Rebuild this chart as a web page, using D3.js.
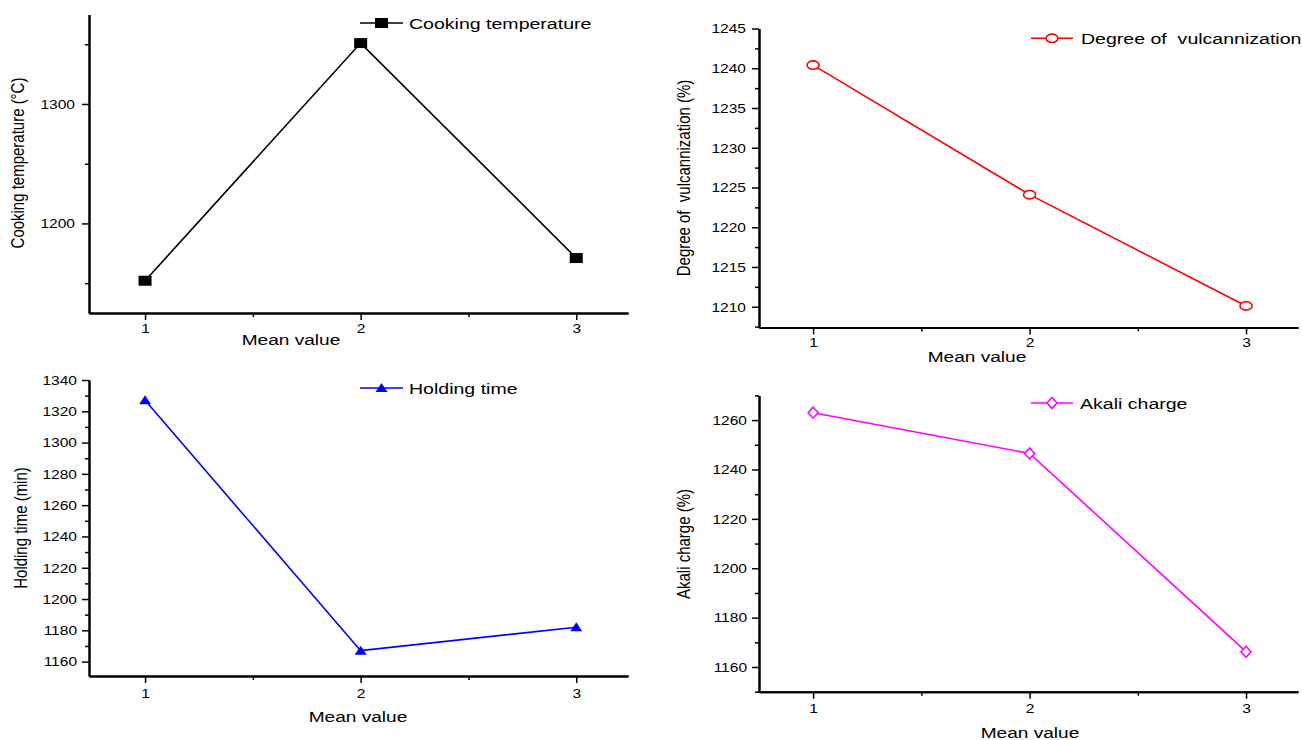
<!DOCTYPE html>
<html>
<head>
<meta charset="utf-8">
<script src="https://cdn.jsdelivr.net/npm/d3@7"></script>
<style>
  body { margin: 0; background: #fff; }
  svg text { font-family: "Liberation Sans", Arial, sans-serif; fill: #000; }
  .axis path { stroke: #000; stroke-width: 2; }
  .axis line { stroke: #000; stroke-width: 1.5; }
  .tick text { font-size: 13.5px; }
</style>
</head>
<body>
<svg id="chart" width="1302" height="740"></svg>
<script>

// values
const meanValues = [1, 2, 3];
const cookingTemperature = [1152, 1351, 1171];
const vulcanization = [1240.4, 1224.1, 1210.1];
const holdingTime = [1327, 1167, 1182];
const akaliCharge = [1263, 1246.5, 1166.2];

const xMajorTicks = [1, 2, 3];
const xMinorTicks = [1.5, 2.5];
const cookingTicks = [1200, 1300];
const cookingMinor = [1150, 1250, 1350];
const vulcTicks = [1210, 1215, 1220, 1225, 1230, 1235, 1240, 1245];
const vulcMinor = [1207.5, 1212.5, 1217.5, 1222.5, 1227.5, 1232.5, 1237.5, 1242.5];
const holdingTicks = [1160, 1180, 1200, 1220, 1240, 1260, 1280, 1300, 1320, 1340];
const holdingMinor = [1170, 1190, 1210, 1230, 1250, 1270, 1290, 1310, 1330];
const akaliTicks = [1160, 1180, 1200, 1220, 1240, 1260];
const akaliMinor = [1150, 1170, 1190, 1210, 1230, 1250, 1270];

const svg = d3.select("#chart");
const fmt = d3.format("d");

// stretch glyphs horizontally, the source picture is wider than it is tall
function stretch(sel, k) {
    sel.each(function() {
        let w = this.getComputedTextLength();
        d3.select(this).attr("textLength", w * k).attr("lengthAdjust", "spacingAndGlyphs");
    });
}

function marker(g, kind, color, cx, cy) {
    if (kind === "square") {
        g.append("rect").attr("x", cx - 6.5).attr("y", cy - 5)
            .attr("width", 13).attr("height", 10).attr("fill", color);
    } else if (kind === "circle") {
        g.append("ellipse").attr("cx", cx).attr("cy", cy).attr("rx", 6).attr("ry", 4.2)
            .attr("fill", "#fff").attr("stroke", color).attr("stroke-width", 1.6);
    } else if (kind === "triangle") {
        g.append("path")
            .attr("d", `M${cx},${cy - 5}L${cx + 6},${cy + 4}L${cx - 6},${cy + 4}Z`)
            .attr("fill", color);
    } else {
        g.append("path")
            .attr("d", `M${cx},${cy - 5.5}L${cx + 5},${cy}L${cx},${cy + 5.5}L${cx - 5},${cy}Z`)
            .attr("fill", "#fff").attr("stroke", color).attr("stroke-width", 1.6);
    }
}

class Panel {

    constructor(opts) {
        this.o = opts;
        this.x = d3.scaleLinear().domain(opts.xDomain).range(opts.xRange);
        this.y = d3.scaleLinear().domain(opts.yDomain).range(opts.yRange);
    }

    draw() {
        let o = this.o, x = this.x, y = this.y;
        let g = svg.append("g");
        let left = o.xRange[0], bottom = o.yRange[0];

        // minor ticks first, then majors with labels
        g.append("g").attr("class", "axis")
            .attr("transform", `translate(0,${bottom})`)
            .call(d3.axisBottom(x).tickValues(xMinorTicks).tickSize(4).tickSizeOuter(0).tickFormat(""));
        let xa = g.append("g").attr("class", "axis")
            .attr("transform", `translate(0,${bottom})`)
            .call(d3.axisBottom(x).tickValues(xMajorTicks).tickSize(7).tickSizeOuter(0)
                .tickPadding(o.xPad).tickFormat(fmt));

        g.append("g").attr("class", "axis")
            .attr("transform", `translate(${left},0)`)
            .call(d3.axisLeft(y).tickValues(o.minor).tickSize(4).tickSizeOuter(0).tickFormat(""));
        let ya = g.append("g").attr("class", "axis")
            .attr("transform", `translate(${left},0)`)
            .call(d3.axisLeft(y).tickValues(o.major).tickSize(7).tickSizeOuter(0)
                .tickPadding(o.yPad).tickFormat(fmt));

        stretch(xa.selectAll("text"), 1.15);
        stretch(ya.selectAll("text"), 1.15);

        let pts = meanValues.map((m, i) => ({ m: m, v: o.values[i] }));
        let line = d3.line().x(d => x(d.m)).y(d => y(d.v));

        g.append("path").datum(pts)
            .attr("d", line)
            .attr("fill", "none")
            .attr("stroke", o.color)
            .attr("stroke-width", 1.6);

        pts.forEach(d => marker(g, o.kind, o.color, x(d.m), y(d.v)));

        // legend
        g.append("line")
            .attr("x1", o.legend[0]).attr("x2", o.legend[1])
            .attr("y1", o.legend[2]).attr("y2", o.legend[2])
            .attr("stroke", o.color).attr("stroke-width", 1.6);
        marker(g, o.kind, o.color, (o.legend[0] + o.legend[1]) / 2, o.legend[2]);
        let lt = g.append("text")
            .attr("x", o.legend[3]).attr("y", o.legend[2])
            .attr("dy", "0.36em")
            .style("font-size", "15.5px")
            .style("white-space", "pre")
            .text(o.name);
        stretch(lt, 1.26);

        let xt = g.append("text")
            .attr("x", o.xTitle[0]).attr("y", o.xTitle[1])
            .attr("text-anchor", "middle")
            .style("font-size", "15.5px")
            .text("Mean value");
        stretch(xt, 1.23);

        // rotated title, glyphs widened across the axis like the source
        g.append("text")
            .attr("transform", `translate(${o.yTitle[0]},${o.yTitle[1]}) rotate(-90) scale(1,1.2)`)
            .attr("text-anchor", "middle")
            .attr("dy", "0.36em")
            .style("font-size", "15px")
            .style("white-space", "pre")
            .text(o.yLabel);
    }
}

new Panel({
    name: "Cooking temperature", yLabel: "Cooking temperature (°C)",
    values: cookingTemperature, color: "#000", kind: "square",
    xDomain: [0.74, 3.24], xRange: [89, 628],
    yDomain: [1125, 1375], yRange: [313, 14.4],
    major: cookingTicks, minor: cookingMinor, xPad: 3, yPad: 7,
    legend: [360, 403, 23, 409], xTitle: [291, 345], yTitle: [17.5, 163]
}).draw();

new Panel({
    name: "Degree of  vulcannization", yLabel: "Degree of  vulcannization (%)",
    values: vulcanization, color: "#ff0000", kind: "circle",
    xDomain: [0.75, 3.24], xRange: [759, 1298],
    yDomain: [1207.4, 1245], yRange: [327.4, 28.5],
    major: vulcTicks, minor: vulcMinor, xPad: 3, yPad: 6,
    legend: [1031, 1073, 38.3, 1081], xTitle: [977, 362], yTitle: [684, 178]
}).draw();

new Panel({
    name: "Holding time", yLabel: "Holding time (min)",
    values: holdingTime, color: "#0000ff", kind: "triangle",
    xDomain: [0.74, 3.24], xRange: [89, 628],
    yDomain: [1150.8, 1340], yRange: [676, 380],
    major: holdingTicks, minor: holdingMinor, xPad: 5, yPad: 5,
    legend: [360, 403, 388, 409], xTitle: [358, 722], yTitle: [20.5, 528]
}).draw();

new Panel({
    name: "Akali charge", yLabel: "Akali charge (%)",
    values: akaliCharge, color: "#ff00ff", kind: "diamond",
    xDomain: [0.75, 3.24], xRange: [759, 1298],
    yDomain: [1150, 1270], yRange: [691.7, 395.4],
    major: akaliTicks, minor: akaliMinor, xPad: 4.5, yPad: 5,
    legend: [1031, 1073, 403, 1080], xTitle: [1030, 738], yTitle: [684, 544]
}).draw();

</script>
</body>
</html>
